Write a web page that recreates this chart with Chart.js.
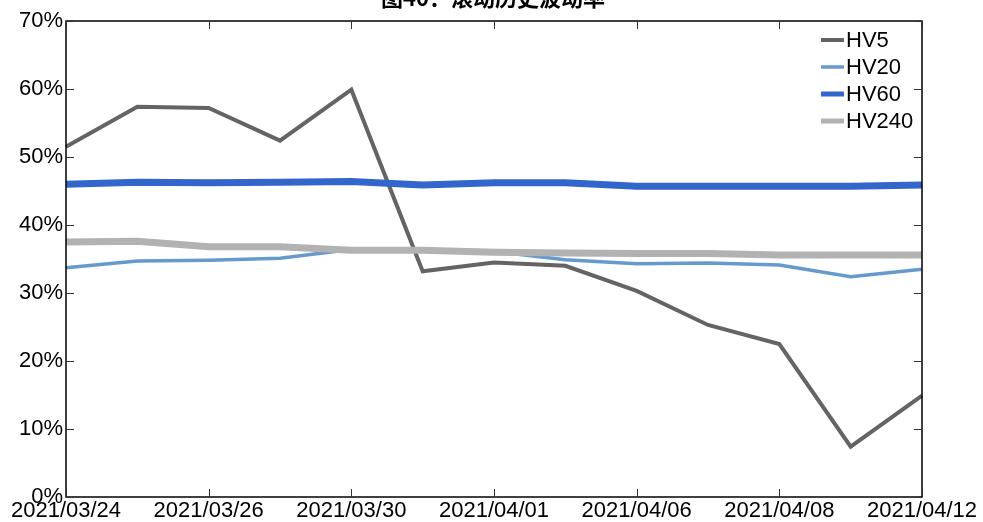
<!DOCTYPE html>
<html lang="zh">
<head>
  <meta charset="UTF-8">
  <title>滚动历史波动率</title>
  <script src="https://cdn.jsdelivr.net/npm/chart.js"></script>
  <style>
    html, body { margin: 0; padding: 0; background: #fff; }
    #wrap { width: 983px; height: 522px; position: relative; }
  </style>
</head>
<body>
  <div id="wrap"><canvas id="hvChart"></canvas></div>

  <script>
    // data
    const dates = ['2021/03/24', '2021/03/25', '2021/03/26', '2021/03/29', '2021/03/30', '2021/03/31',
                   '2021/04/01', '2021/04/02', '2021/04/06', '2021/04/07', '2021/04/08', '2021/04/09', '2021/04/12'];
    const hv5   = [51.5, 57.4, 57.2, 52.4, 59.9, 33.2, 34.5, 34.0, 30.3, 25.3, 22.5, 7.4, 14.9];
    const hv20  = [33.7, 34.7, 34.8, 35.1, 36.4, 36.2, 36.1, 34.9, 34.3, 34.4, 34.1, 32.4, 33.5];
    const hv60  = [46.0, 46.3, 46.2, 46.3, 46.4, 45.9, 46.2, 46.2, 45.7, 45.7, 45.7, 45.7, 45.9];
    const hv240 = [37.5, 37.6, 36.8, 36.8, 36.3, 36.3, 36.0, 35.9, 35.8, 35.8, 35.6, 35.6, 35.6];
    const yTicks = [0, 10, 20, 30, 40, 50, 60, 70];

    const FONT = 'Liberation Sans, Arial, sans-serif';

    // frame, inward tick marks, title and legend
    const framePlugin = {
      id: 'frame',
      afterDraw(chart) {
        const { ctx, chartArea: a, scales: { x, y } } = chart;
        ctx.save();
        ctx.strokeStyle = '#000';
        ctx.lineWidth = 1.5;
        ctx.strokeRect(a.left, a.top, a.right - a.left, a.bottom - a.top);
        ctx.lineWidth = 1;
        ctx.strokeStyle = '#333';
        ctx.beginPath();
        dates.forEach((d, i) => {
          if (i % 2 !== 0) return;
          const px = Math.round(x.getPixelForValue(i)) + 0.5;
          ctx.moveTo(px, a.bottom); ctx.lineTo(px, a.bottom - 8);
          ctx.moveTo(px, a.top); ctx.lineTo(px, a.top + 8);
        });
        yTicks.forEach(v => {
          const py = Math.round(y.getPixelForValue(v)) + 0.5;
          ctx.moveTo(a.left, py); ctx.lineTo(a.left + 8, py);
          ctx.moveTo(a.right, py); ctx.lineTo(a.right - 8, py);
        });
        ctx.stroke();

        // title (cut off at the top, as in the source)
        ctx.fillStyle = '#000';
        ctx.font = 'bold 22px "Noto Sans CJK SC", sans-serif';
        ctx.textAlign = 'center';
        ctx.textBaseline = 'alphabetic';
        ctx.fillText('图40：滚动历史波动率', 493, 6);

        // legend
        const items = chart.data.datasets;
        ctx.font = '22px ' + FONT;
        ctx.textAlign = 'left';
        ctx.textBaseline = 'middle';
        items.forEach((ds, i) => {
          const ly = 40 + i * 27;
          ctx.strokeStyle = ds.borderColor;
          ctx.lineWidth = Math.min(ds.borderWidth, 5);
          ctx.beginPath();
          ctx.moveTo(821, ly); ctx.lineTo(844, ly);
          ctx.stroke();
          ctx.fillStyle = '#000';
          ctx.fillText(ds.label, 846, ly + 1);
        });
        ctx.restore();
      }
    };

    new Chart(document.getElementById('hvChart'), {
      type: 'line',
      data: {
        labels: dates,
        datasets: [
          { label: 'HV5',   data: hv5,   borderColor: '#646464', borderWidth: 4,   order: 4 },
          { label: 'HV20',  data: hv20,  borderColor: '#6699cc', borderWidth: 3.5, order: 3 },
          { label: 'HV60',  data: hv60,  borderColor: '#3366cc', borderWidth: 7,   order: 2 },
          { label: 'HV240', data: hv240, borderColor: '#b2b2b2', borderWidth: 7,   order: 1 }
        ]
      },
      options: {
        responsive: true,
        maintainAspectRatio: false,
        animation: false,
        elements: { point: { radius: 0 }, line: { tension: 0, borderJoinStyle: 'miter' } },
        layout: { padding: { top: 21, right: 61, left: 0, bottom: 0 } },
        plugins: { legend: { display: false }, tooltip: { enabled: false } },
        scales: {
          x: {
            offset: false,
            grid: { display: false, drawTicks: false },
            border: { display: false },
            afterFit(s) { s.height = 25; },
            ticks: {
              autoSkip: false, maxRotation: 0, padding: 1,
              color: '#000', font: { family: FONT, size: 22 },
              callback: (v, i) => i % 2 === 0 ? dates[i] : ''
            }
          },
          y: {
            min: 0, max: 70,
            grid: { display: false, drawTicks: false },
            border: { display: false },
            afterFit(s) { s.width = 66; },
            ticks: {
              stepSize: 10, padding: 3,
              color: '#000', font: { family: FONT, size: 22 },
              callback: v => v + '%'
            }
          }
        }
      },
      plugins: [framePlugin]
    });
  </script>
</body>
</html>
